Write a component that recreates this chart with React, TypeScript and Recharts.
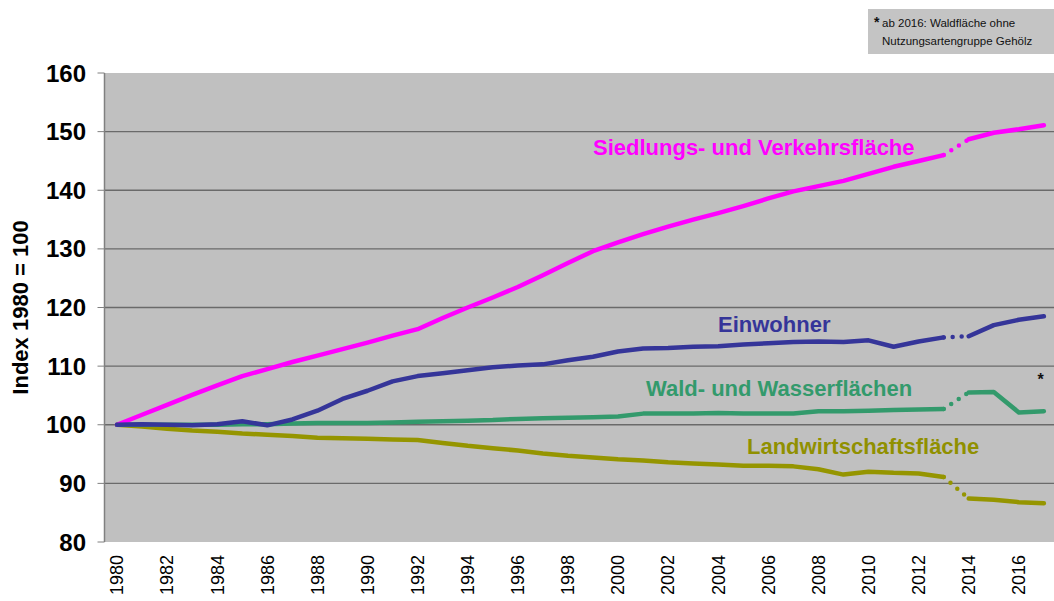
import { CartesianGrid, Line, LineChart, XAxis, YAxis } from "recharts";

const years = [
  1980, 1981, 1982, 1983, 1984, 1985, 1986, 1987, 1988, 1989, 1990, 1991, 1992, 1993, 1994, 1995, 1996, 1997, 1998,
  1999, 2000, 2001, 2002, 2003, 2004, 2005, 2006, 2007, 2008, 2009, 2010, 2011, 2012, 2013, 2014, 2015, 2016, 2017,
];

const siedlung = [
  100, 101.7, 103.4, 105.1, 106.7, 108.3, 109.5, 110.7, 111.8, 112.9, 114.0, 115.2, 116.3, 118.2, 120.0, 121.7, 123.5,
  125.5, 127.6, 129.6, 131.1, 132.5, 133.8, 135.0, 136.1, 137.3, 138.6, 139.8, 140.7, 141.6, 142.8, 144.0, 145.0, 146.0,
  148.7, 149.8, 150.4, 151.1,
];

const einwohner = [
  100, 100.1, 100.0, 99.9, 100.1, 100.6, 99.9, 100.9, 102.4, 104.4, 105.8, 107.4, 108.3, 108.8, 109.3, 109.8, 110.1,
  110.3, 111.0, 111.6, 112.5, 113.0, 113.1, 113.3, 113.4, 113.7, 113.9, 114.1, 114.2, 114.1, 114.4, 113.3, 114.2, 114.9,
  115.1, 117.0, 117.9, 118.5,
];

const wald = [
  100, 100, 100, 100, 100, 100.1, 100.1, 100.2, 100.3, 100.3, 100.3, 100.4, 100.5, 100.6, 100.7, 100.8, 101.0, 101.1,
  101.2, 101.3, 101.4, 101.9, 101.9, 101.9, 102.0, 101.9, 101.9, 101.9, 102.3, 102.3, 102.4, 102.5, 102.6, 102.7, 105.5,
  105.6, 102.1, 102.3,
];

const landwirtschaft = [
  100, 99.7, 99.3, 99.0, 98.8, 98.5, 98.3, 98.1, 97.8, 97.7, 97.6, 97.5, 97.4, 96.9, 96.4, 96.0, 95.6, 95.1, 94.7, 94.4,
  94.1, 93.9, 93.6, 93.4, 93.2, 93.0, 93.0, 92.9, 92.4, 91.5, 92.0, 91.8, 91.7, 91.1, 87.4, 87.2, 86.8, 86.6,
];

const yTicks = [80, 90, 100, 110, 120, 130, 140, 150, 160];
const gridValues = [90, 100, 110, 120, 130, 140, 150];
const labelYears = [
  1980, 1982, 1984, 1986, 1988, 1990, 1992, 1994, 1996, 1998, 2000, 2002, 2004, 2006, 2008, 2010, 2012, 2014, 2016,
];

// first year of the new survey method: drawn dotted between the two years
const breakYear = 2014;

const series = [
  { key: "land", values: landwirtschaft, color: "#959500" },
  { key: "wald", values: wald, color: "#339a6c" },
  { key: "siedlung", values: siedlung, color: "#ff00ff" },
  { key: "einwohner", values: einwohner, color: "#353599" },
];

const rows = years.map((year, i) => {
  const row: Record<string, number | null> = { year };
  for (const s of series) {
    const v = s.values[i];
    row[s.key] = year < breakYear ? v : null;
    row[s.key + "New"] = year >= breakYear ? v : null;
    row[s.key + "Gap"] = year === breakYear - 1 || year === breakYear ? v : null;
  }
  return row;
});

const bounds = [...years.map((y) => y - 0.5), years[years.length - 1] + 0.5];
const domain: [number, number] = [bounds[0], bounds[bounds.length - 1]];

const font = "'Liberation Sans', Arial, sans-serif";

function YearTick({ x, y, payload }: any) {
  return (
    <text
      x={x}
      y={y}
      transform={`rotate(-90 ${x} ${y})`}
      textAnchor="end"
      dy="0.35em"
      fontSize={18}
      fontFamily={font}
      fill="#000"
    >
      {payload.value}
    </text>
  );
}

export default function App() {
  return (
    <div
      style={{
        position: "absolute",
        left: 0,
        top: 0,
        width: 1054,
        height: 601,
        overflow: "hidden",
        background: "#fff",
        fontFamily: font,
      }}
    >
      <LineChart width={1070} height={601} data={rows} margin={{ top: 73, right: 13.6, bottom: 0, left: 0 }}>
        <CartesianGrid
          horizontal
          vertical={false}
          fill="#c0c0c0"
          fillOpacity={1}
          stroke="#6a6a6a"
          strokeWidth={1.3}
          horizontalValues={gridValues}
        />
        <XAxis
          xAxisId="bounds"
          type="number"
          dataKey="year"
          domain={domain}
          ticks={bounds}
          interval={0}
          allowDataOverflow
          tick={false}
          tickSize={6}
          height={0}
          axisLine={{ stroke: "#505050", strokeWidth: 1.5 }}
          tickLine={{ stroke: "#505050" }}
        />
        <XAxis
          xAxisId="years"
          type="number"
          dataKey="year"
          domain={domain}
          ticks={labelYears}
          interval={0}
          allowDataOverflow
          axisLine={false}
          tickLine={false}
          tickSize={0}
          tickMargin={13}
          height={59}
          tick={<YearTick />}
        />
        <YAxis
          type="number"
          domain={[80, 160]}
          ticks={yTicks}
          interval={0}
          allowDataOverflow
          width={104.5}
          tickSize={7}
          tickMargin={11.5}
          axisLine={{ stroke: "#808080", strokeWidth: 1.5 }}
          tickLine={{ stroke: "#808080" }}
          tick={{ fontSize: 24, fontWeight: "bold", fill: "#000", fontFamily: font }}
          label={{
            value: "Index 1980 = 100",
            angle: -90,
            position: "insideLeft",
            offset: 20,
            style: { textAnchor: "middle", fontSize: 22, fontWeight: "bold", fill: "#000", fontFamily: font },
          }}
        />
        {series.flatMap((s) => [
          <Line
            key={s.key}
            xAxisId="years"
            type="linear"
            dataKey={s.key}
            stroke={s.color}
            strokeWidth={4.5}
            strokeLinecap="round"
            strokeLinejoin="round"
            dot={false}
            activeDot={false}
            isAnimationActive={false}
          />,
          <Line
            key={s.key + "New"}
            xAxisId="years"
            type="linear"
            dataKey={s.key + "New"}
            stroke={s.color}
            strokeWidth={4.5}
            strokeLinecap="round"
            strokeLinejoin="round"
            dot={false}
            activeDot={false}
            isAnimationActive={false}
          />,
          <Line
            key={s.key + "Gap"}
            xAxisId="years"
            type="linear"
            dataKey={s.key + "Gap"}
            stroke={s.color}
            strokeWidth={4.5}
            strokeLinecap="round"
            strokeDasharray="0 9"
            dot={false}
            activeDot={false}
            isAnimationActive={false}
          />,
        ])}
      </LineChart>
      <svg
        width={1054}
        height={601}
        style={{ position: "absolute", left: 0, top: 0, pointerEvents: "none" }}
        fontFamily={font}
      >
        <rect x={868} y={9} width={190} height={45} fill="#c4c4c4" />
        <text x={874} y={27} fontSize={11.5} fill="#111">
          <tspan fontSize={14} fontWeight="bold">*</tspan>
          <tspan x={882}>ab 2016: Waldfläche ohne</tspan>
        </text>
        <text x={882} y={45} fontSize={11.5} fill="#111">
          Nutzungsartengruppe Gehölz
        </text>
        <g fontSize={22} fontWeight="bold">
          <text x={593} y={155} fill="#ff00ff">
            Siedlungs- und Verkehrsfläche
          </text>
          <text x={718} y={332} fill="#353599">
            Einwohner
          </text>
          <text x={646} y={396} fill="#339a6c">
            Wald- und Wasserflächen
          </text>
          <text x={747} y={454} fill="#909000">
            Landwirtschaftsfläche
          </text>
        </g>
        <text x={1037.5} y={385} fontSize={16} fontWeight="bold" fill="#111">
          *
        </text>
      </svg>
    </div>
  );
}
